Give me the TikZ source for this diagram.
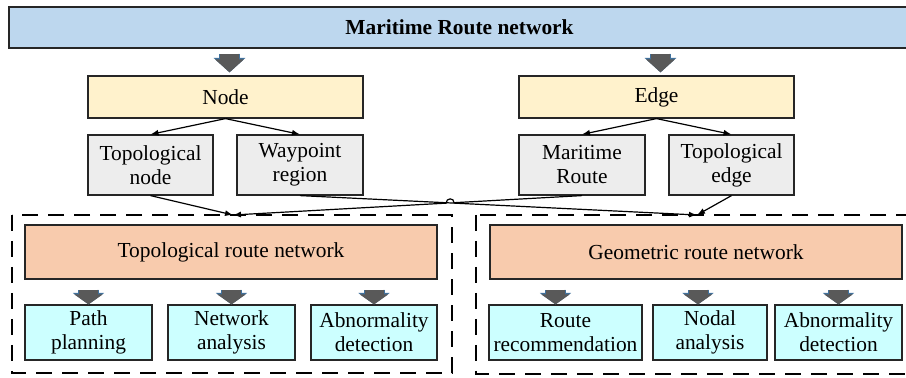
\documentclass[tikz,border=0pt]{standalone}
\usepackage{fontspec}
\setmainfont{Liberation Serif}
\usetikzlibrary{arrows.meta,calc,intersections}
\definecolor{bannerblue}{HTML}{BDD7EE}
\definecolor{nodeyellow}{HTML}{FFF2CC}
\definecolor{leafgray}{HTML}{EDEDED}
\definecolor{netorange}{HTML}{F8CBAD}
\definecolor{taskcyan}{HTML}{CCFFFF}
\definecolor{arrowgray}{HTML}{595959}
\definecolor{arrowblue}{HTML}{41719C}
\begin{document}
\begin{tikzpicture}[x=0.5pt,y=-0.5pt,
    box/.style={draw=black!85,line width=0.6pt,align=center,inner sep=0pt,
      font=\fontsize{10.7}{12}\selectfont},
    fat/.style={line width=9.5pt,draw=arrowgray,-{Triangle[length=#1,width=14pt]},
      preaction={draw=arrowblue,line width=10.5pt,-{Triangle[length=#1+0.7pt,width=15.4pt]}}},
    fat/.default=6.5pt,
    link/.style={line width=0.6pt,-{Latex[length=4pt,width=3pt]}},
    dashbox/.style={line width=0.75pt,dash pattern=on 8pt off 5pt}]
  \useasboundingbox (0,0) rectangle (906,378);
  \node[box,fill=bannerblue,minimum width=450.5pt,minimum height=20.5pt,
    font=\fontsize{10.7}{12}\selectfont\bfseries] (net) at (459.5,27.5) {Maritime Route network};
  \node[box,fill=nodeyellow,minimum width=137.5pt,minimum height=21pt] (node) at (225.5,97) {Node};
  \node[box,fill=nodeyellow,minimum width=137.5pt,minimum height=21pt] (edge) at (656.5,97) {Edge};
  \node[box,fill=leafgray,minimum width=62.5pt,minimum height=30pt] (tn) at (150.5,165) {Topological\\node};
  \node[box,fill=leafgray,minimum width=63pt,minimum height=30pt] (wr) at (300,165) {Waypoint\\region};
  \node[box,fill=leafgray,minimum width=63pt,minimum height=30pt] (mr) at (582,165) {Maritime\\Route};
  \node[box,fill=leafgray,minimum width=62.5pt,minimum height=30pt] (te) at (731.5,165) {Topological\\edge};
  \draw[dashbox] (12,215) rectangle (452,373);
  \draw[dashbox] (476,215) rectangle (912,374);
  \coordinate (tt) at (233,215);
  \coordinate (gt) at (697,215);
  \node[box,fill=netorange,minimum width=206pt,minimum height=27pt] (trn) at (231,252) {Topological route network};
  \node[box,fill=netorange,minimum width=206pt,minimum height=27pt] (grn) at (696,252) {Geometric route network};
  \node[box,fill=taskcyan,minimum width=63.5pt,minimum height=27.5pt] (pp) at (88.5,332.5) {Path\\planning};
  \node[box,fill=taskcyan,minimum width=63.5pt,minimum height=27.5pt] (na) at (231.5,332.5) {Network\\analysis};
  \node[box,fill=taskcyan,minimum width=63pt,minimum height=27.5pt] (ad1) at (374,332.5) {Abnormality\\detection};
  \node[box,fill=taskcyan,minimum width=76.5pt,minimum height=27.5pt] (rr) at (565.5,332.5) {Route\\recommendation};
  \node[box,fill=taskcyan,minimum width=57pt,minimum height=27.5pt] (nd) at (710,332.5) {Nodal\\analysis};
  \node[box,fill=taskcyan,minimum width=63.5pt,minimum height=27.5pt] (ad2) at (838.5,332.5) {Abnormality\\detection};
  % block arrows
  \begin{scope}[shorten <=2.5pt,shorten >=1.5pt]
    \draw[fat] ([xshift=2pt]net.south -| node.north) -- ([xshift=2pt]node.north);
    \draw[fat] ([xshift=2pt]net.south -| edge.north) -- ([xshift=2pt]edge.north);
  \end{scope}
  \begin{scope}[shorten <=5pt]
    \draw[fat=5pt] (trn.south -| pp.north) -- (pp.north);
    \draw[fat=5pt] (trn.south -| na.north) -- (na.north);
    \draw[fat=5pt] (trn.south -| ad1.north) -- (ad1.north);
    \draw[fat=5pt] ([xshift=-5pt]grn.south -| rr.north) -- ([xshift=-5pt]rr.north);
    \draw[fat=5pt] ([xshift=-6pt]grn.south -| nd.north) -- ([xshift=-6pt]nd.north);
    \draw[fat=5pt] (grn.south -| ad2.north) -- (ad2.north);
  \end{scope}
  % thin links
  \draw[link] (node.south) -- (tn.north);
  \draw[link] (node.south) -- (wr.north);
  \draw[link] (edge.south) -- (mr.north);
  \draw[link] (edge.south) -- (te.north);
  \draw[link] (tn.south) -- (tt);
  \draw[link] (te.south) -- (gt);
  \draw[link,name path=wg] (wr.south) -- (gt);
  \path[name path=mt] (mr.south) -- (tt);
  \path[name intersections={of=wg and mt,by=hop}];
  \draw[link] (mr.south) -- ($(hop)!2pt!(mr.south)$)
    .. controls +(0,2.7pt) and +(0,2.7pt) .. ($(hop)!2pt!(tt)$) -- (tt);
\end{tikzpicture}
\end{document}
